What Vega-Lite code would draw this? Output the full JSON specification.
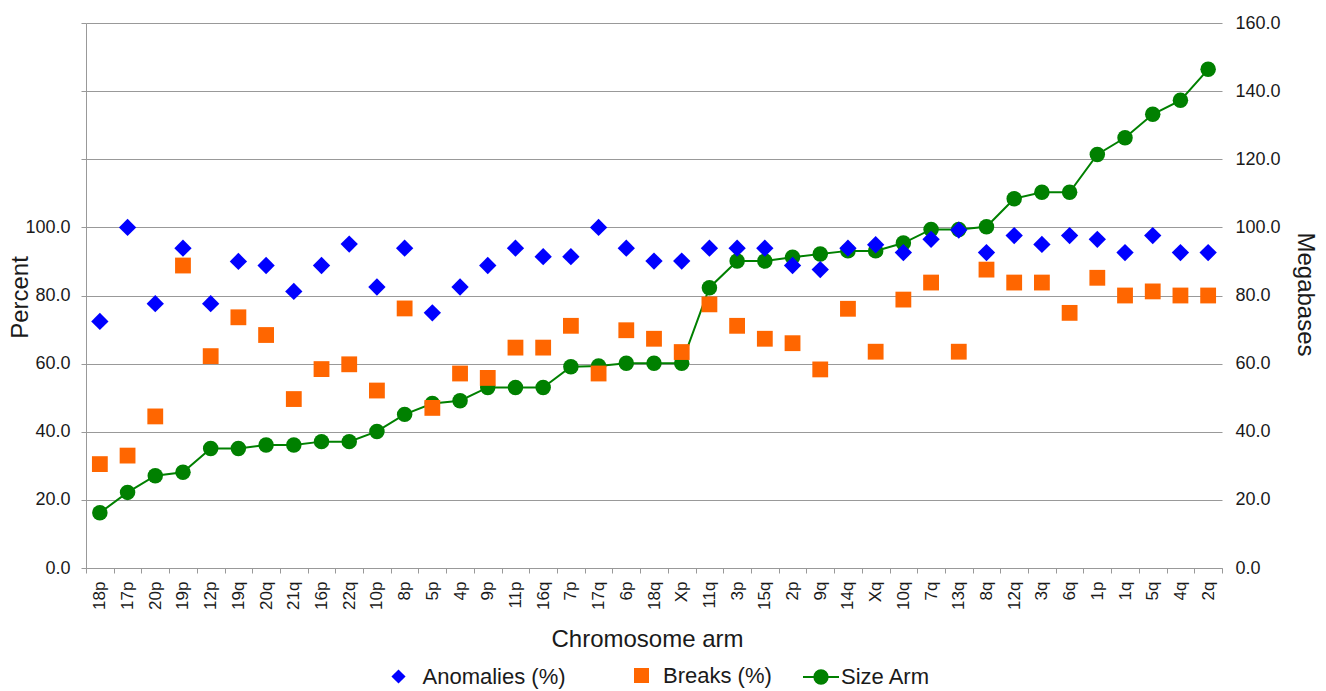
{
  "$schema": "https://vega.github.io/schema/vega-lite/v6.json",
  "width": 1136,
  "height": 545,
  "autosize": {"type": "none"},
  "padding": {"left": 86, "top": 23, "right": 104, "bottom": 123},
  "background": "white",
  "data": {
    "values": [
      {"arm": "18p", "anomalies": 72.4, "breaks": 30.5, "size": 16.2},
      {"arm": "17p", "anomalies": 100.0, "breaks": 33.0, "size": 22.2},
      {"arm": "20p", "anomalies": 77.6, "breaks": 44.5, "size": 27.1},
      {"arm": "19p", "anomalies": 93.9, "breaks": 88.8, "size": 28.1},
      {"arm": "12p", "anomalies": 77.6, "breaks": 62.2, "size": 35.1},
      {"arm": "19q", "anomalies": 90.0, "breaks": 73.6, "size": 35.1},
      {"arm": "20q", "anomalies": 88.8, "breaks": 68.4, "size": 36.1},
      {"arm": "21q", "anomalies": 81.2, "breaks": 49.6, "size": 36.1},
      {"arm": "16p", "anomalies": 88.8, "breaks": 58.4, "size": 37.1},
      {"arm": "22q", "anomalies": 95.1, "breaks": 59.8, "size": 37.1},
      {"arm": "10p", "anomalies": 82.5, "breaks": 52.1, "size": 40.1},
      {"arm": "8p", "anomalies": 93.9, "breaks": 76.2, "size": 45.1},
      {"arm": "5p", "anomalies": 74.9, "breaks": 47.0, "size": 48.3},
      {"arm": "4p", "anomalies": 82.5, "breaks": 57.1, "size": 49.1},
      {"arm": "9p", "anomalies": 88.8, "breaks": 55.8, "size": 53.0},
      {"arm": "11p", "anomalies": 93.9, "breaks": 64.7, "size": 53.0},
      {"arm": "16q", "anomalies": 91.4, "breaks": 64.7, "size": 53.0},
      {"arm": "7p", "anomalies": 91.4, "breaks": 71.1, "size": 59.1},
      {"arm": "17q", "anomalies": 100.0, "breaks": 57.1, "size": 59.3},
      {"arm": "6p", "anomalies": 93.9, "breaks": 69.8, "size": 60.1},
      {"arm": "18q", "anomalies": 90.1, "breaks": 67.3, "size": 60.1},
      {"arm": "Xp", "anomalies": 90.1, "breaks": 63.4, "size": 60.1},
      {"arm": "11q", "anomalies": 93.9, "breaks": 77.4, "size": 82.3},
      {"arm": "3p", "anomalies": 93.9, "breaks": 71.1, "size": 90.1},
      {"arm": "15q", "anomalies": 93.9, "breaks": 67.3, "size": 90.1},
      {"arm": "2p", "anomalies": 88.8, "breaks": 66.0, "size": 91.2},
      {"arm": "9q", "anomalies": 87.6, "breaks": 58.3, "size": 92.2},
      {"arm": "14q", "anomalies": 93.9, "breaks": 76.1, "size": 93.1},
      {"arm": "Xq", "anomalies": 94.9, "breaks": 63.5, "size": 93.1},
      {"arm": "10q", "anomalies": 92.6, "breaks": 78.8, "size": 95.4},
      {"arm": "7q", "anomalies": 96.5, "breaks": 83.8, "size": 99.4},
      {"arm": "13q", "anomalies": 99.2, "breaks": 63.5, "size": 99.4},
      {"arm": "8q", "anomalies": 92.6, "breaks": 87.6, "size": 100.2},
      {"arm": "12q", "anomalies": 97.6, "breaks": 83.8, "size": 108.4},
      {"arm": "3q", "anomalies": 95.0, "breaks": 83.8, "size": 110.3},
      {"arm": "6q", "anomalies": 97.6, "breaks": 74.9, "size": 110.3},
      {"arm": "1p", "anomalies": 96.5, "breaks": 85.2, "size": 121.4},
      {"arm": "1q", "anomalies": 92.6, "breaks": 80.0, "size": 126.3},
      {"arm": "5q", "anomalies": 97.6, "breaks": 81.2, "size": 133.2},
      {"arm": "4q", "anomalies": 92.6, "breaks": 80.0, "size": 137.3},
      {"arm": "2q", "anomalies": 92.6, "breaks": 80.0, "size": 146.4}
    ]
  },
  "encoding": {
    "x": {
      "field": "arm",
      "type": "nominal",
      "sort": ["18p","17p","20p","19p","12p","19q","20q","21q","16p","22q","10p","8p","5p","4p","9p","11p","16q","7p","17q","6p","18q","Xp","11q","3p","15q","2p","9q","14q","Xq","10q","7q","13q","8q","12q","3q","6q","1p","1q","5q","4q","2q"],
      "scale": {"type": "band", "paddingInner": 0, "paddingOuter": 0},
      "axis": {
        "title": "Chromosome arm",
        "labelAngle": 270,
        "labelFontSize": 17,
        "labelPadding": 8,
        "tickBand": "extent",
        "tickSize": 5,
        "tickColor": "#999999",
        "domainColor": "#999999",
        "grid": false,
        "titleFontSize": 24,
        "titleX": 561,
        "titleY": 78,
        "titleAlign": "center",
        "titleBaseline": "alphabetic"
      }
    }
  },
  "layer": [
    {
      "encoding": {
        "y": {
          "field": "size",
          "type": "quantitative",
          "scale": {"domain": [0, 160], "nice": false, "zero": true},
          "axis": {
            "orient": "right",
            "title": "Megabases",
            "titleFontSize": 24,
            "titleAngle": 90,
            "titleX": 82,
            "titleY": 271,
            "titleAlign": "center",
            "titleBaseline": "middle",
            "values": [0, 20, 40, 60, 80, 100, 120, 140, 160],
            "format": ".1f",
            "labelFontSize": 18,
            "labelPadding": 13,
            "grid": false,
            "domain": false,
            "ticks": false
          }
        }
      },
      "layer": [
        {
          "mark": {"type": "line", "color": "#008000", "strokeWidth": 2},
          "encoding": {}
        },
        {
          "mark": {"type": "point", "shape": "circle", "filled": true, "opacity": 1, "size": 240},
          "encoding": {
            "color": {
              "datum": "Size Arm",
              "scale": {"range": ["#008000"]},
              "legend": {
                "orient": "none",
                "legendX": 716,
                "legendY": 635,
                "title": null,
                "padding": 0,
                "symbolType": "M-1,0L1,0M0.37,0A0.37,0.37,0,1,1,-0.37,0A0.37,0.37,0,1,1,0.37,0Z",
                "symbolSize": 1296,
                "symbolStrokeColor": "#008000",
                "symbolStrokeWidth": 2,
                "symbolOpacity": 1,
                "labelFontSize": 22,
                "labelOffset": 1
              }
            }
          }
        }
      ]
    },
    {
      "layer": [
        {
          "mark": {"type": "point", "shape": "diamond", "filled": true, "opacity": 1, "size": 300},
          "encoding": {
            "y": {
              "field": "anomalies",
              "type": "quantitative",
              "scale": {"domain": [0, 160], "nice": false, "zero": true},
              "axis": {
                "orient": "left",
                "title": "Percent",
                "titleFontSize": 24,
                "titleAngle": 270,
                "titleX": -66,
                "titleY": 274,
                "titleAlign": "center",
                "titleBaseline": "middle",
                "values": [0, 20, 40, 60, 80, 100, 120, 140, 160],
                "labelExpr": "datum.value <= 100 ? format(datum.value, '.1f') : ''",
                "labelFontSize": 18,
                "labelPadding": 11,
                "tickSize": 5,
                "tickColor": "#999999",
                "domainColor": "#999999",
                "grid": true,
                "gridColor": "#999999"
              }
            },
            "color": {
              "datum": "Anomalies (%)",
              "scale": {"range": ["#0000ff"]},
              "legend": {
                "orient": "none",
                "legendX": 301.5,
                "legendY": 642.5,
                "title": null,
                "padding": 0,
                "symbolType": "diamond",
                "symbolSize": 200,
                "symbolStrokeWidth": 0,
                "symbolOpacity": 1,
                "labelFontSize": 22,
                "labelOffset": 13
              }
            }
          }
        },
        {
          "mark": {"type": "point", "shape": "square", "filled": true, "opacity": 1, "size": 250},
          "encoding": {
            "y": {
              "field": "breaks",
              "type": "quantitative",
              "scale": {"domain": [0, 160], "nice": false, "zero": true},
              "axis": {
                "orient": "left",
                "title": "Percent",
                "titleFontSize": 24,
                "titleAngle": 270,
                "titleX": -66,
                "titleY": 274,
                "titleAlign": "center",
                "titleBaseline": "middle",
                "values": [0, 20, 40, 60, 80, 100, 120, 140, 160],
                "labelExpr": "datum.value <= 100 ? format(datum.value, '.1f') : ''",
                "labelFontSize": 18,
                "labelPadding": 11,
                "tickSize": 5,
                "tickColor": "#999999",
                "domainColor": "#999999",
                "grid": true,
                "gridColor": "#999999"
              }
            },
            "color": {
              "datum": "Breaks (%)",
              "scale": {"range": ["#ff6600"]},
              "legend": {
                "orient": "none",
                "legendX": 544.5,
                "legendY": 641.5,
                "title": null,
                "padding": 0,
                "symbolType": "square",
                "symbolSize": 225,
                "symbolStrokeWidth": 0,
                "symbolOpacity": 1,
                "labelFontSize": 22,
                "labelOffset": 10.5
              }
            }
          }
        }
      ],
      "resolve": {"scale": {"color": "independent"}}
    }
  ],
  "resolve": {"scale": {"y": "independent", "color": "independent"}},
  "config": {
    "font": "Liberation Sans",
    "view": {"stroke": null},
    "axis": {
      "labelColor": "#1a1a1a",
      "titleColor": "#1a1a1a",
      "labelFont": "Liberation Sans",
      "titleFont": "Liberation Sans",
      "titleFontWeight": "normal"
    },
    "legend": {
      "labelColor": "#1a1a1a",
      "labelFont": "Liberation Sans"
    }
  }
}
